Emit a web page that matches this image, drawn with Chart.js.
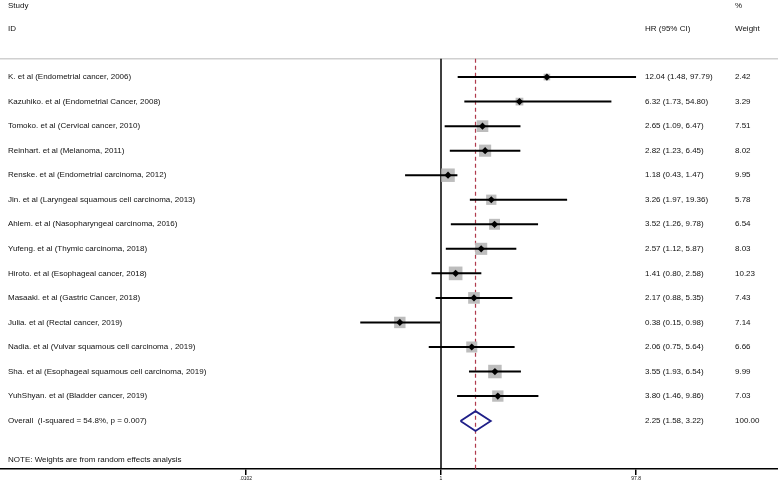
<!DOCTYPE html>
<html>
<head>
<meta charset="utf-8">
<script src="https://cdn.jsdelivr.net/npm/chart.js@4"></script>
<style>
html,body{margin:0;padding:0;background:#fff;}
#wrap{width:778px;height:485px;position:relative;}
</style>
</head>
<body>
<div id="wrap"><canvas id="c" width="778" height="485"></canvas></div>
<script>
const studies = [
  "K. et al (Endometrial cancer, 2006)",
  "Kazuhiko. et al (Endometrial Cancer, 2008)",
  "Tomoko. et al (Cervical cancer, 2010)",
  "Reinhart. et al (Melanoma, 2011)",
  "Renske. et al (Endometrial carcinoma, 2012)",
  "Jin. et al (Laryngeal squamous cell carcinoma, 2013)",
  "Ahlem. et al (Nasopharyngeal carcinoma, 2016)",
  "Yufeng. et al (Thymic carcinoma, 2018)",
  "Hiroto. et al (Esophageal cancer, 2018)",
  "Masaaki. et al (Gastric Cancer, 2018)",
  "Julia. et al (Rectal cancer, 2019)",
  "Nadia. et al (Vulvar squamous cell carcinoma , 2019)",
  "Sha. et al (Esophageal squamous cell carcinoma, 2019)",
  "YuhShyan. et al (Bladder cancer, 2019)"
];
const hr      = [12.04, 6.32, 2.65, 2.82, 1.18, 3.26, 3.52, 2.57, 1.41, 2.17, 0.38, 2.06, 3.55, 3.80];
const ciLow   = [1.48, 1.73, 1.09, 1.23, 0.43, 1.97, 1.26, 1.12, 0.80, 0.88, 0.15, 0.75, 1.93, 1.46];
const ciHigh  = [97.79, 54.80, 6.47, 6.45, 1.47, 19.36, 9.78, 5.87, 2.58, 5.35, 0.98, 5.64, 6.54, 9.86];
const weights = [2.42, 3.29, 7.51, 8.02, 9.95, 5.78, 6.54, 8.03, 10.23, 7.43, 7.14, 6.66, 9.99, 7.03];
const hrText  = ["12.04 (1.48, 97.79)","6.32 (1.73, 54.80)","2.65 (1.09, 6.47)","2.82 (1.23, 6.45)","1.18 (0.43, 1.47)","3.26 (1.97, 19.36)","3.52 (1.26, 9.78)","2.57 (1.12, 5.87)","1.41 (0.80, 2.58)","2.17 (0.88, 5.35)","0.38 (0.15, 0.98)","2.06 (0.75, 5.64)","3.55 (1.93, 6.54)","3.80 (1.46, 9.86)"];
const weightText = ["2.42","3.29","7.51","8.02","9.95","5.78","6.54","8.03","10.23","7.43","7.14","6.66","9.99","7.03"];
const overallLabel = "Overall  (I-squared = 54.8%, p = 0.007)";
const overall = {est: 2.25, lo: 1.58, hi: 3.22, text: "2.25 (1.58, 3.22)", weight: "100.00"};
const noteText = "NOTE: Weights are from random effects analysis";
const tickValues = [0.0102, 1, 97.8];
const tickLabels = [".0102", "1", "97.8"];

// layout constants (row units on y scale)
const overallRow = 14.02;
const headerRow1 = -2.92, headerRow2 = -1.95, sepRow = -0.75, noteRow = 15.6;
const yMin = -3.14, yMax = 15.972;
const xMin = Math.pow(10, -441/98), xMax = Math.pow(10, 337/98);

const FONT = '8px "Liberation Sans", Arial, sans-serif';

const datasets = [];
// separator line
datasets.push({type:'line', data:[{x:xMin,y:sepRow},{x:xMax,y:sepRow}], borderColor:'#d0d0d0', borderWidth:1.5, pointRadius:0, showLine:true, order:10});
// null line at 1
datasets.push({type:'line', data:[{x:1,y:sepRow},{x:1,y:yMax}], borderColor:'#000', borderWidth:1.5, pointRadius:0, showLine:true, order:9});
// overall effect dashed
datasets.push({type:'line', data:[{x:overall.est,y:sepRow},{x:overall.est,y:yMax}], borderColor:'#b03a4c', borderWidth:1.2, borderDash:[4,3], pointRadius:0, showLine:true, order:8});
// weight boxes
datasets.push({type:'scatter', data: hr.map((v,i)=>({x:v,y:i})), pointStyle:'rect',
  pointRadius: weights.map(w => 4.27*Math.sqrt(w)/Math.SQRT2),
  backgroundColor:'#bdbdbd', borderWidth:0, order:7});
// CI lines
hr.forEach((v,i)=>{
  datasets.push({type:'line', data:[{x:ciLow[i],y:i},{x:ciHigh[i],y:i}], borderColor:'#000', borderWidth:2, pointRadius:0, showLine:true, order:6});
});
// point estimates
datasets.push({type:'scatter', data: hr.map((v,i)=>({x:v,y:i})), pointStyle:'rectRot', pointRadius:3.6, backgroundColor:'#000', borderColor:'#000', borderWidth:0, order:5});
// overall diamond
datasets.push({type:'line', data:[{x:overall.lo,y:overallRow},{x:overall.est,y:overallRow-0.405},{x:overall.hi,y:overallRow},{x:overall.est,y:overallRow+0.405},{x:overall.lo,y:overallRow}],
  borderColor:'#1f1f88', borderWidth:1.8, pointRadius:0, showLine:true, tension:0, order:4});

const textPlugin = {
  id:'forestText',
  afterDatasetsDraw(chart){
    const ctx = chart.ctx, ys = chart.scales.y;
    ctx.save();
    ctx.font = FONT;
    ctx.fillStyle = '#111';
    ctx.textBaseline = 'middle';
    ctx.textAlign = 'left';
    const put = (t,x,row)=>ctx.fillText(t,x,ys.getPixelForValue(row));
    put("Study", 8, headerRow1);
    put("ID", 8, headerRow2);
    put("%", 735, headerRow1);
    put("HR (95% CI)", 645, headerRow2);
    put("Weight", 735, headerRow2);
    studies.forEach((s,i)=>{
      put(s, 8, i);
      put(hrText[i], 645, i);
      put(weightText[i], 735, i);
    });
    put(overallLabel, 8, overallRow);
    put(overall.text, 645, overallRow);
    put(overall.weight, 735, overallRow);
    put(noteText, 8, noteRow);
    ctx.restore();
  }
};

new Chart(document.getElementById('c'), {
  data: {datasets},
  options: {
    responsive:false, animation:false,
    layout:{padding:0, autoPadding:false},
    plugins:{legend:{display:false}, tooltip:{enabled:false}},
    scales:{
      x:{type:'logarithmic', position:'bottom', min:xMin, max:xMax,
        afterBuildTicks(axis){ axis.ticks = tickValues.map(v=>({value:v})); },
        afterFit(axis){ axis.height = 16; },
        ticks:{autoSkip:false, maxRotation:0, padding:1, color:'#111',
          font:{family:'"Liberation Sans", Arial, sans-serif', size:5},
          callback:(v,i)=>tickLabels[i]},
        grid:{drawOnChartArea:false, drawTicks:true, tickLength:6, color:'#000', lineWidth:1.5},
        border:{display:true, color:'#000', width:1.5}
      },
      y:{type:'linear', display:false, reverse:true, min:yMin, max:yMax}
    }
  },
  plugins:[textPlugin]
});
</script>
</body>
</html>
